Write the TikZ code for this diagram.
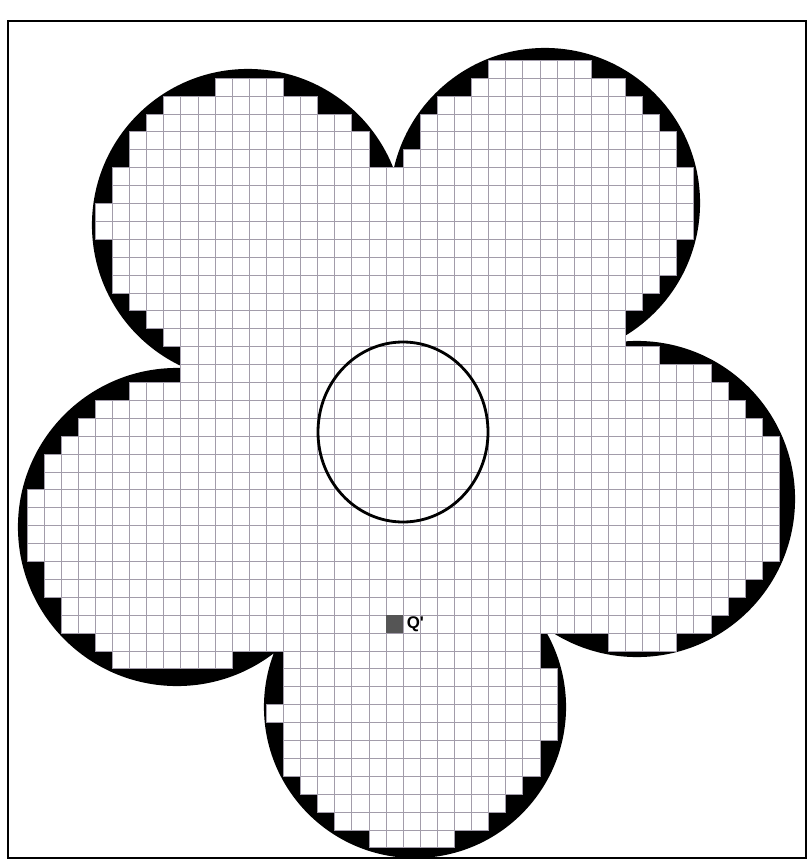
\documentclass[tikz,border=0pt]{standalone}
\usepackage{fontspec}
\newfontfamily\labfont{Liberation Sans}
\usetikzlibrary{calc}
\definecolor{gridcol}{HTML}{A29CAA}
\definecolor{qcol}{HTML}{555555}
\newcommand{\petaltest}[3]{% #1 result macro, #2 x, #3 y (px/100): how many petals hold the point
  \pgfmathtruncatemacro#1{((#2-2.48)*(#2-2.48)+(#3-2.25)*(#3-2.25)<2.4025)
    +((#2-5.45)*(#2-5.45)+(#3-2.03)*(#3-2.03)<2.3716)
    +((#2-6.37)*(#2-6.37)+(#3-4.99)*(#3-4.99)<2.4649)
    +((#2-4.15)*(#2-4.15)+(#3-7.07)*(#3-7.07)<2.25)
    +((#2-1.77)*(#2-1.77)+(#3-5.27)*(#3-5.27)<2.4964)
    +((#2-4.05)*(#2-4.05)+(#3-4.30)*(#3-4.30)<3.8025)}%
}
\newcommand{\flowerpath}{(248,225) circle [radius=155] (545,203) circle [radius=154]
  (637,499) circle [radius=157] (415,707) circle [radius=150]
  (177,527) circle [radius=158] (405,430) circle [radius=195]}

\begin{document}
\begin{tikzpicture}[x=0.025cm, y=-0.025cm,
    cell/.style={fill=white, draw=gridcol, line width=0.35pt},
    qcell/.style={fill=qcol}]
  \useasboundingbox (0,0) rectangle (810,867);
  \draw[line width=1.7pt] (8,21) rectangle (806,858);
  % flower, black first
  \filldraw[black, line width=1.5pt] \flowerpath;
  % which grid corners lie in the flower
  \foreach \i in {-24,...,24}{
    \foreach \j in {-33,...,15}{
      \pgfmathsetmacro\px{(403+17.1*(\i))/100}
      \pgfmathsetmacro\py{(615+17.9*(\j))/100}
      \petaltest{\hits}{\px}{\py}
      \expandafter\xdef\csname fl\i:\j\endcsname{\ifnum\hits>0 1\else 0\fi}
    }
  }
  % whole cells turn white
  \foreach \i in {-24,...,23}{
    \foreach \j in {-33,...,14}{
      \ifnum\numexpr\csname fl\i:\j\endcsname+\csname fl\the\numexpr\i+1\relax:\j\endcsname
          +\csname fl\i:\the\numexpr\j+1\relax\endcsname
          +\csname fl\the\numexpr\i+1\relax:\the\numexpr\j+1\relax\endcsname\relax=4
        \filldraw[cell] ({403+17.1*(\i)},{615+17.9*(\j)}) rectangle ({403+17.1*(\i+1)},{615+17.9*(\j+1)});
      \fi
    }
  }
  \draw[line width=2pt] (403,432) ellipse [x radius=85, y radius=90];
  \fill[qcell] (386,615) rectangle (403,633);
  \node[anchor=west, inner sep=2.5pt, font=\labfont\bfseries\fontsize{12}{14}\selectfont] (qlab) at (403,624) {Q'};
\end{tikzpicture}
\end{document}
